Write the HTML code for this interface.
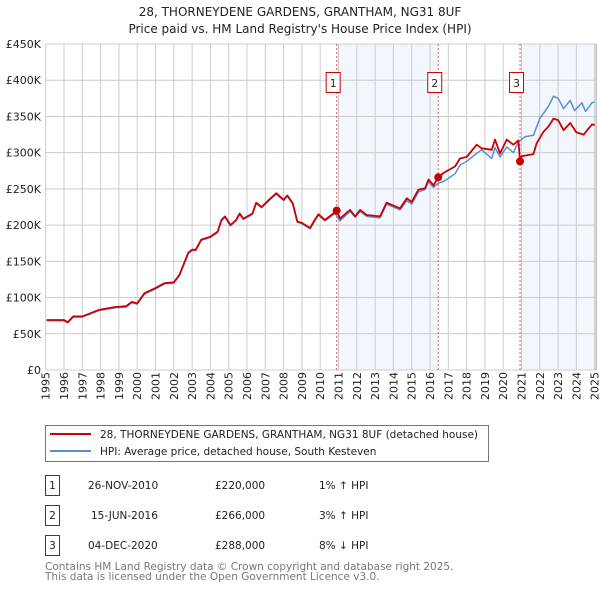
<!DOCTYPE html>
<html><head><meta charset="utf-8">
<style>
body{margin:0;background:#fff;}
svg{display:block;font-family:"DejaVu Sans","Liberation Sans",sans-serif;}
</style></head>
<body>
<svg id="chart" width="600" height="590" viewBox="0 0 600 590" xmlns="http://www.w3.org/2000/svg">
<text x="300" y="16" text-anchor="middle" font-size="12" fill="#222">28, THORNEYDENE GARDENS, GRANTHAM, NG31 8UF</text>
<text x="300" y="33" text-anchor="middle" font-size="12" fill="#222">Price paid vs. HM Land Registry's House Price Index (HPI)</text>
<g id="shade"></g>
<g id="grid"></g>
<g id="yticks"></g>
<g id="xticks"></g>
<g id="sales"></g>
<g id="series"></g>
<g id="dots"></g>

<g>
<rect x="45.5" y="425.5" width="443" height="36" fill="#fff" stroke="#777"/>
<line x1="50" y1="434" x2="91" y2="434" stroke="#cc0000" stroke-width="2"/>
<text x="100" y="438" font-size="10.5" fill="#222">28, THORNEYDENE GARDENS, GRANTHAM, NG31 8UF (detached house)</text>
<line x1="50" y1="451" x2="91" y2="451" stroke="#5b8fd4" stroke-width="2"/>
<text x="100" y="455" font-size="10.5" fill="#222">HPI: Average price, detached house, South Kesteven</text>
</g>

<g font-size="10.5" fill="#222">
<rect x="45.5" y="475.5" width="14" height="20" fill="none" stroke="#cc0000"/>
<text x="52.5" y="489" text-anchor="middle">1</text>
<text x="88" y="489">26-NOV-2010</text>
<text x="215" y="489">£220,000</text>
<text x="319" y="489">1% ↑ HPI</text>
<rect x="45.5" y="505.5" width="14" height="20" fill="none" stroke="#cc0000"/>
<text x="52.5" y="519" text-anchor="middle">2</text>
<text x="91" y="519">15-JUN-2016</text>
<text x="215" y="519">£266,000</text>
<text x="319" y="519">3% ↑ HPI</text>
<rect x="45.5" y="535.5" width="14" height="20" fill="none" stroke="#cc0000"/>
<text x="52.5" y="549" text-anchor="middle">3</text>
<text x="88" y="549">04-DEC-2020</text>
<text x="215" y="549">£288,000</text>
<text x="319" y="549">8% ↓ HPI</text>
</g>
<text x="45" y="570" font-size="10.5" fill="#777">Contains HM Land Registry data © Crown copyright and database right 2025.</text>
<text x="45" y="580" font-size="10.5" fill="#777">This data is licensed under the Open Government Licence v3.0.</text>
</svg>
<script>
var yTickValues = [0,50,100,150,200,250,300,350,400,450];
var yTickLabels = ["£0","£50K","£100K","£150K","£200K","£250K","£300K","£350K","£400K","£450K"];
var xTickYears = [1995,1996,1997,1998,1999,2000,2001,2002,2003,2004,2005,2006,2007,2008,2009,2010,2011,2012,2013,2014,2015,2016,2017,2018,2019,2020,2021,2022,2023,2024,2025];
var saleDates = [2010.9, 2016.45, 2020.92];
var salePrices = [220, 266, 288];
var saleLabels = ["1","2","3"];
var hpiDates = [1995.05,1996.0,1996.2,1996.5,1997.0,1997.9,1998.8,1999.4,1999.7,2000.0,2000.4,2001.0,2001.5,2002.0,2002.3,2002.8,2003.0,2003.2,2003.5,2004.0,2004.4,2004.6,2004.8,2005.1,2005.4,2005.6,2005.8,2006.3,2006.5,2006.8,2007.2,2007.6,2008.0,2008.2,2008.5,2008.75,2009.0,2009.45,2009.7,2009.9,2010.26,2010.81,2011.08,2011.63,2011.91,2012.18,2012.54,2013.27,2013.63,2014.36,2014.73,2015.0,2015.37,2015.73,2015.92,2016.19,2016.45,2016.73,2017.37,2017.64,2018.0,2018.55,2018.82,2019.37,2019.55,2019.83,2020.19,2020.56,2020.83,2021.19,2021.65,2022.0,2022.47,2022.75,2023.0,2023.3,2023.66,2023.9,2024.3,2024.5,2024.85,2025.0];
var hpiValues = [68,68,65,73,73,82,86,87,93,91,105,112,119,120,130,161,165,165,179,183,190,206,211,199,206,215,208,215,230,224,234,243,234,240,229,204,202,195,206,214,206,216,206,219,211,219,212,210,229,221,234,229,246,249,260,252,258,260,271,283,288,299,304,292,307,294,308,300,315,322,324,347,364,378,375,361,372,358,369,357,369,370];
var propDates = [1995.05,1996.0,1996.2,1996.5,1997.0,1997.9,1998.8,1999.4,1999.7,2000.0,2000.4,2001.0,2001.5,2002.0,2002.3,2002.8,2003.0,2003.2,2003.5,2004.0,2004.4,2004.6,2004.8,2005.1,2005.4,2005.6,2005.8,2006.3,2006.5,2006.8,2007.2,2007.6,2008.0,2008.2,2008.5,2008.75,2009.0,2009.45,2009.7,2009.9,2010.26,2010.81,2010.9,2011.08,2011.63,2011.91,2012.18,2012.54,2013.27,2013.63,2014.36,2014.73,2015.0,2015.37,2015.73,2015.92,2016.19,2016.45,2016.73,2017.37,2017.64,2018.0,2018.55,2018.82,2019.37,2019.55,2019.83,2020.19,2020.56,2020.83,2020.92,2021.0,2021.65,2021.83,2022.2,2022.47,2022.75,2023.0,2023.3,2023.66,2024.0,2024.4,2024.85,2025.0];
var propValues = [69,69,66,74,74,83,87,88,94,92,106,113,120,121,131,162,166,166,180,184,191,207,212,200,207,216,209,216,231,225,235,244,235,241,230,205,203,196,207,215,207,218,220,209,221,212,221,214,212,231,223,237,232,249,251,263,255,266,272,281,292,294,311,306,304,318,299,318,311,317,288,295,298,313,329,336,347,345,331,341,328,325,339,338];

var X0=45.7, PXY=18.3, Y0=370, PXK=326/450;
function xs(y){return X0+(y-1995)*PXY;}
function ys(v){return Y0-v*PXK;}
var NS="http://www.w3.org/2000/svg";
function mk(tag,attrs,parent){var e=document.createElementNS(NS,tag);for(var k in attrs)e.setAttribute(k,attrs[k]);document.getElementById(parent).appendChild(e);return e;}
var right=xs(2025)+1.5;
var s1=mk('rect',{x:xs(saleDates[0]),y:ys(450),width:xs(saleDates[1])-xs(saleDates[0]),height:ys(0)-ys(450),fill:'#f2f6fd'},'shade');


var s2=mk('rect',{x:xs(saleDates[2]),y:ys(450),width:right-xs(saleDates[2]),height:ys(0)-ys(450),fill:'#f2f6fd'},'shade');


yTickValues.forEach(function(v,i){
  var l=mk('line',{x1:X0,x2:right,y1:ys(v),y2:ys(v),stroke:'#ccc','stroke-width':1},'grid');
  
  
  var t=mk('text',{x:41,y:ys(v)+4,'text-anchor':'end','font-size':'11',fill:'#222'},'yticks');
  
  
  t.textContent=yTickLabels[i];
});
xTickYears.forEach(function(yr){
  var l=mk('line',{x1:xs(yr),x2:xs(yr),y1:ys(450),y2:ys(0),stroke:'#ccc','stroke-width':1},'grid');
  
  
  var x=xs(yr)+4,y=400;
  var t=mk('text',{x:x,y:y,transform:'rotate(-90 '+x+' '+y+')','font-size':'11',fill:'#222'},'xticks');
  
  
  t.textContent=yr;
});
var ax=mk('line',{x1:right,x2:right,y1:ys(450),y2:ys(0),stroke:'#aaa'},'grid');


saleDates.forEach(function(d,i){
  var l=mk('line',{x1:xs(d),x2:xs(d),y1:ys(450),y2:ys(0),stroke:'#e06060','stroke-width':1,'stroke-dasharray':'2,2'},'sales');
  
  
  var r=mk('rect',{x:xs(d)-10.5,y:72.5,width:14,height:20,fill:'#fff',stroke:'#cc0000'},'sales');
  
  
  var t=mk('text',{x:xs(d)-3.5,y:87,'text-anchor':'middle','font-size':'10.5',fill:'#222'},'sales');
  
  
  t.textContent=saleLabels[i];
});
function pathFor(dates,vals){return dates.map(function(d,i){return (i?'L':'M')+xs(d).toFixed(1)+','+ys(vals[i]).toFixed(1);}).join('');}
var hp=mk('path',{d:pathFor(hpiDates,hpiValues),fill:'none',stroke:'#5b8fd4','stroke-width':1.5,'stroke-linejoin':'round'},'series');


var pp=mk('path',{d:pathFor(propDates,propValues),fill:'none',stroke:'#cc0000','stroke-width':1.8,'stroke-linejoin':'round'},'series');


saleDates.forEach(function(d,i){
  var c=mk('circle',{cx:xs(d),cy:ys(salePrices[i]),r:4,fill:'#cc0000'},'dots');
  
  
});
</script>
</body></html>
